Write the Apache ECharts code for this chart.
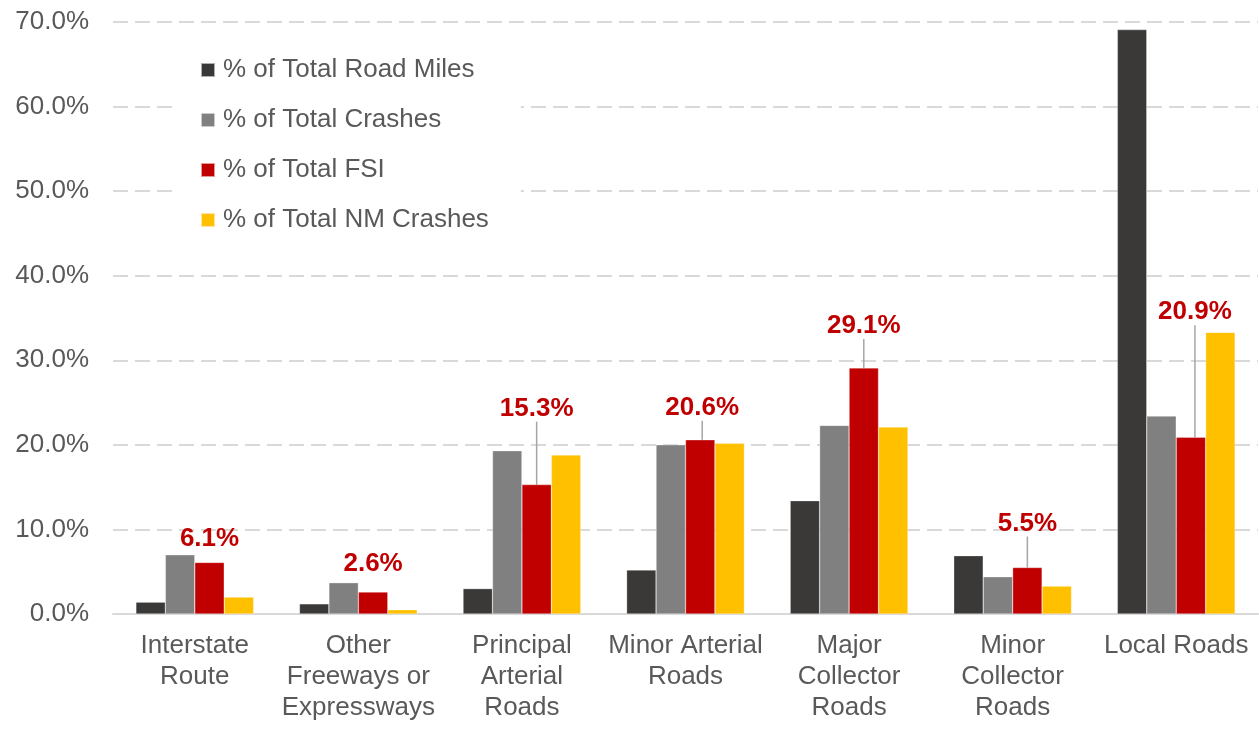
<!DOCTYPE html>
<html>
<head>
<meta charset="utf-8">
<script src="https://cdn.jsdelivr.net/npm/echarts@6/dist/echarts.min.js"></script>
<style>html,body{margin:0;padding:0;background:#fff}#c{width:1259px;height:734px}</style>
</head>
<body>
<div id="c"></div>
<script>
const categories = ["Interstate\nRoute", "Other\nFreeways or\nExpressways", "Principal\nArterial\nRoads", "Minor Arterial\nRoads", "Major\nCollector\nRoads", "Minor\nCollector\nRoads", "Local Roads"];
const seriesNames = ["% of Total Road Miles", "% of Total Crashes", "% of Total FSI", "% of Total NM Crashes"];
const roadMiles = [1.4, 1.2, 3.0, 5.2, 13.4, 6.9, 69.1];
const crashes = [7.0, 3.7, 19.3, 20.0, 22.3, 4.4, 23.4];
const fsi = [6.1, 2.6, 15.3, 20.6, 29.1, 5.5, 20.9];
const nmCrashes = [2.0, 0.5, 18.8, 20.2, 22.1, 3.3, 33.3];
const yTicks = [0, 10, 20, 30, 40, 50, 60, 70];

// label offsets (styling for the FSI call-outs)
const labelDx = [0, 0, 0, 2, 0, 0, 4];
const labelDy = [-6, -10, -58, -14, -24, -26, -107];
const showLine = [false, false, true, true, true, true, true];

const colors = ['#3a3937', '#808080', '#c00000', '#ffc000'];
const font = 'Liberation Sans, Arial, sans-serif';

const chart = echarts.init(document.getElementById('c'));
const mk = (name, data, i) => ({
  name, type: 'bar', data: i === 2 ? data.map((v, k) => ({value: v, labelLine: {show: showLine[k]}})) : data,
  barGap: '0%', barCategoryGap: '28%',
  itemStyle: {color: colors[i], borderColor: 'rgba(255,255,255,0.6)', borderWidth: 0.5},
  z: 2
});
const series = [mk(seriesNames[0], roadMiles, 0), mk(seriesNames[1], crashes, 1), mk(seriesNames[2], fsi, 2), mk(seriesNames[3], nmCrashes, 3)];
series[2].label = {
  show: true, position: 'top', distance: 5,
  formatter: p => p.value.toFixed(1) + '%',
  color: '#c00000', fontWeight: 'bold', fontSize: 26, fontFamily: font
};
series[2].labelLayout = p => ({dx: labelDx[p.dataIndex], dy: labelDy[p.dataIndex]});
series[2].labelLine = {show: true, lineStyle: {color: '#a6a6a6', width: 1.5}};

chart.setOption({
  backgroundColor: '#fff',
  animation: false,
  textStyle: {fontFamily: font},
  grid: {left: 113, right: 1, top: 22, bottom: 120, containLabel: false},
  legend: {
    data: seriesNames, orient: 'vertical', left: 175, top: 45,
    padding: [12, 32, 14, 25], itemGap: 24,
    backgroundColor: '#ffffff',
    icon: 'rect', itemWidth: 14, itemHeight: 14,
    textStyle: {color: '#595959', fontSize: 26, fontFamily: font, padding: [0, 0, 0, 3], lineHeight: 25},
    z: 10
  },
  xAxis: {
    type: 'category', data: categories,
    axisTick: {show: false},
    axisLine: {lineStyle: {color: '#d9d9d9', width: 2}},
    axisLabel: {interval: 0, color: '#595959', fontSize: 26, lineHeight: 31, margin: 16, fontFamily: font}
  },
  yAxis: {
    type: 'value', min: yTicks[0], max: yTicks[yTicks.length - 1], interval: 10,
    axisLine: {show: false}, axisTick: {show: false},
    axisLabel: {color: '#595959', fontSize: 26, margin: 24, formatter: v => v.toFixed(1) + '%', fontFamily: font},
    splitLine: {lineStyle: {color: '#d9d9d9', width: 2, type: [15, 7]}}
  },
  series
});
</script>
</body>
</html>
